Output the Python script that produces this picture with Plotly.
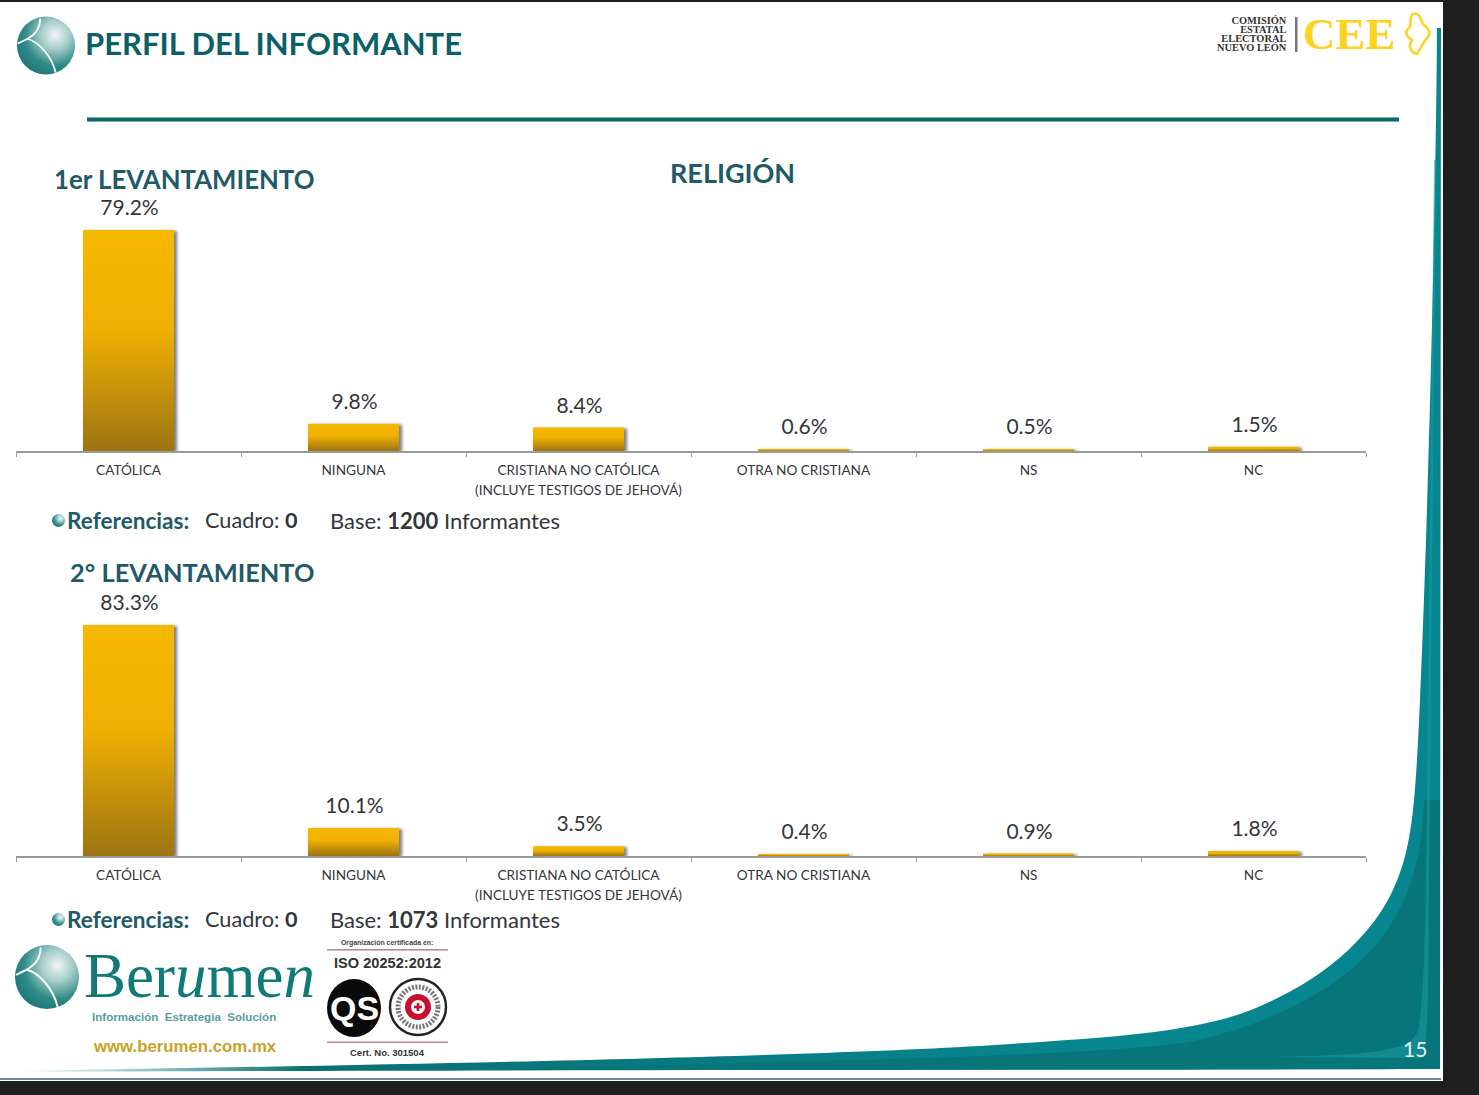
import base64
import plotly.graph_objects as go

W, H = 1479, 1095

# ---------- data ----------
categories = ["CATÓLICA", "NINGUNA", "CRISTIANA NO CATÓLICA<br>(INCLUYE TESTIGOS DE JEHOVÁ)",
              "OTRA NO CRISTIANA", "NS", "NC"]
values_first = [79.2, 9.8, 8.4, 0.6, 0.5, 1.5]
values_second = [83.3, 10.1, 3.5, 0.4, 0.9, 1.8]
base_first = 1200
base_second = 1073
cuadro = 0

TEAL = "#0B5F68"
TEXT = "#33363A"


def fx(px):
    return px / W


def fy(px):
    return 1 - px / H


def sphere(cx, cy, r):
    s = r / 30
    return f'''<g transform="translate({cx} {cy}) scale({s})">
<circle r="30" fill="url(#sph)"/>
<path d="M-6 -28 C-6 -18 -10 -12 -19 -7 L-29 -2" fill="none" stroke="#fff" stroke-width="1.8"/>
<path d="M-19 -7 C-6 -3 6 12 10 28" fill="none" stroke="#fff" stroke-width="1.8"/>
</g>'''


svg = f'''<svg xmlns="http://www.w3.org/2000/svg" width="{W}" height="{H}" viewBox="0 0 {W} {H}">
<defs>
<radialGradient id="sph" cx="0.66" cy="0.32" r="0.85">
<stop offset="0" stop-color="#EEF6F5"/><stop offset="0.28" stop-color="#A9CFCC"/>
<stop offset="0.62" stop-color="#2F8A88"/><stop offset="1" stop-color="#136E6E"/>
</radialGradient>
<linearGradient id="tail" x1="0" x2="1" y1="0" y2="0">
<stop offset="0" stop-color="#0A7C80" stop-opacity="0"/><stop offset="0.2" stop-color="#0A6F72"/>
<stop offset="0.75" stop-color="#07868F"/><stop offset="1" stop-color="#07868F"/>
</linearGradient>
<linearGradient id="rule" x1="0" x2="0" y1="0" y2="1">
<stop offset="0" stop-color="#A8D5D3"/><stop offset="0.3" stop-color="#0B6A69"/>
<stop offset="0.75" stop-color="#0B6A69"/><stop offset="1" stop-color="#BFE2E0"/>
</linearGradient>
</defs>
<rect width="{W}" height="{H}" fill="#1E1E1E"/>
<rect x="0" y="2" width="1443" height="1079" fill="#FFFFFF"/>
<rect x="0" y="1078" width="1441" height="2" fill="#6E89A6"/>
<path d="M1437 28 C1436 200 1428 520 1420 700 C1415 810 1412 850 1392 892
         C1370 938 1320 985 1240 1014 C1180 1034 1100 1038 980 1046
         C800 1056 500 1063 20 1071 L20 1072 C400 1070 1100 1070 1440 1069 L1441 28 Z" fill="url(#tail)"/>
<path d="M1424 800 C1422 860 1410 900 1380 940 C1340 990 1270 1024 1190 1042
         C1100 1056 800 1062 420 1070 L1440 1069 L1440 800 Z" fill="#08757A"/>
<path d="M1434 160 L1428 700 C1426 850 1427 990 1418 1030 C1412 1048 1392 1055 1270 1057 L1420 1058 C1426 1052 1426 1040 1428 1000 L1436 160 Z" fill="#1B9AA0" opacity="0.55"/>
<rect x="87" y="117" width="1312" height="5" fill="url(#rule)"/>
{sphere(46, 45.5, 29)}
{sphere(47, 977, 32)}
<circle cx="58.5" cy="520.5" r="6.5" fill="url(#sph)"/>
<circle cx="58.5" cy="919.5" r="6.5" fill="url(#sph)"/>
<rect x="1295" y="17" width="2.5" height="35" fill="#777"/>
<path d="M1413 14 C1420 12 1421 20 1423 24 C1428 28 1431 33 1428 37 C1423 42 1421 48 1417 54
         C1410 52 1408 46 1412 40 C1406 36 1404 32 1409 28 C1413 24 1408 18 1413 14 Z"
      fill="none" stroke="#FFD42A" stroke-width="2.6"/>
<rect x="327" y="949" width="121" height="1.6" fill="#B98A98"/>
<rect x="327" y="1041.5" width="121" height="1.6" fill="#B98A98"/>
<ellipse cx="354" cy="1008" rx="27" ry="29" fill="#0A0A0A"/>
<circle cx="418" cy="1007" r="28" fill="#FFFFFF" stroke="#222" stroke-width="2.4"/>
<circle cx="418" cy="1007" r="20" fill="none" stroke="#777" stroke-width="5" stroke-dasharray="2 1.5"/>
<circle cx="418" cy="1007" r="13" fill="#C8102E"/>
<circle cx="418" cy="1007" r="7" fill="#FFFFFF"/>
<rect x="416.7" y="1003" width="2.6" height="8" fill="#C8102E"/>
<rect x="414" y="1005.7" width="8" height="2.6" fill="#C8102E"/>
</svg>'''
bg = "data:image/svg+xml;base64," + base64.b64encode(svg.encode()).decode()

fig = go.Figure()


def bars(values, xa, ya):
    fig.add_trace(go.Bar(
        x=categories, y=values, xaxis=xa, yaxis=ya, width=0.405,
        marker=dict(color="#F4B400", line=dict(width=0)),
        text=[f"{v:.1f}%" for v in values], textposition="outside", cliponaxis=False,
        textfont=dict(family="Lato, Open Sans, sans-serif", size=21, color=TEXT),
        showlegend=False,
    ))


bars(values_first, "x", "y")
bars(values_second, "x2", "y2")

xstyle = dict(
    type="category", categoryorder="array", categoryarray=categories, range=[-0.5, 5.5],
    showgrid=False, zeroline=False, showline=True, linecolor="#9A9A9A", linewidth=1.5,
    ticks="outside", ticklen=4, tickcolor="#9A9A9A", tickson="boundaries", tickangle=0,
    ticklabelstandoff=6,
    tickfont=dict(family="Lato, sans-serif", size=13.6, color=TEXT),
    domain=[fx(16), fx(1366)],
)
fig.update_layout(
    width=W, height=H, margin=dict(l=0, r=0, t=0, b=0), autosize=False,
    paper_bgcolor="#1E1E1E", plot_bgcolor="rgba(0,0,0,0)", barmode="overlay",
    xaxis=dict(anchor="y", **xstyle), xaxis2=dict(anchor="y2", **xstyle),
    yaxis=dict(domain=[fy(451), fy(200)], range=[0, 251 / 2.79], visible=False),
    yaxis2=dict(domain=[fy(856), fy(600)], range=[0, 256 / 2.773], visible=False),
    images=[dict(source=bg, xref="paper", yref="paper", x=0, y=1, sizex=1, sizey=1,
                 sizing="stretch", xanchor="left", yanchor="top", layer="below")],
)


def note(x, y, text, size, color=TEXT, family="Lato, sans-serif", anchor="left"):
    fig.add_annotation(x=fx(x), y=fy(y), xref="paper", yref="paper", text=text, showarrow=False,
                       xanchor=anchor, yanchor="middle", align=anchor, borderpad=0, borderwidth=0,
                       font=dict(size=size, color=color, family=family))


note(85, 43, "<b>PERFIL DEL INFORMANTE</b>", 31, TEAL)
note(732, 173, "<b>RELIGIÓN</b>", 27, "#1F5A68", anchor="center")
note(54, 179, "<b>1er LEVANTAMIENTO</b>", 25.8, "#1F5A68")
note(70, 572, "<b>2° LEVANTAMIENTO</b>", 25.4, "#1F5A68")

for y, base in ((520, base_first), (919, base_second)):
    note(67, y, "<b>Referencias:</b>", 22.6, "#1F5A68")
    note(205, y, f"Cuadro: <b>{cuadro}</b>", 21.7)
    note(330, y, f"Base: <b>{base}</b> Informantes", 22)

serif = "Liberation Serif, serif"
sans = "Liberation Sans, sans-serif"
note(1287, 41, "<b>COMISIÓN<br>ESTATAL<br>ELECTORAL<br>NUEVO LEÓN</b>", 10.4, "#333", serif, "right")
note(1303, 34, "<b>CEE</b>", 45, "#FFD21E", serif)

note(84, 976, "Ber<i>u</i>me<i>n</i>", 63, "#0F7A78", serif)
note(92, 1016, "<b>Información  Estrategia  Solución</b>", 11.6, "#5B9C9C", sans)
note(93, 1046, "<b>www.berumen.com.mx</b>", 16.8, "#C9A227", sans)
note(387, 943, "<b>Organización certificada en:</b>", 6.9, "#444", sans, "center")
note(387, 963, "<b>ISO 20252:2012</b>", 14.6, "#333", sans, "center")
note(354, 1008, "<b>QS</b>", 34, "#FFFFFF", sans, "center")
note(387, 1052, "<b>Cert. No. 301504</b>", 9.5, "#333", sans, "center")
note(1415, 1048, "15", 21, "#E6F5F5", "Lato, sans-serif", "center")

post = """
document.body.style.margin='0';
document.body.style.background='#1E1E1E';
document.documentElement.style.overflow='hidden';
var svg=document.querySelector('.main-svg');
var ns='http://www.w3.org/2000/svg';
var d=svg.querySelector('defs')||svg.insertBefore(document.createElementNS(ns,'defs'),svg.firstChild);
var g=document.createElementNS(ns,'linearGradient');
g.setAttribute('id','barfill');g.setAttribute('x1','0');g.setAttribute('x2','0');g.setAttribute('y1','0');g.setAttribute('y2','1');
[['0','#F5B802'],['0.45','#F0B003'],['1','#9C7412']].forEach(function(s){
 var st=document.createElementNS(ns,'stop');st.setAttribute('offset',s[0]);st.setAttribute('stop-color',s[1]);g.appendChild(st);});
d.appendChild(g);
document.querySelectorAll('.barlayer .point path').forEach(function(p){
 p.style.fill='url(#barfill)';
 p.style.filter='drop-shadow(3px 1px 1.5px rgba(0,0,0,0.5))';});
document.querySelectorAll('.barlayer text.bartext').forEach(function(t){
 t.setAttribute('transform','translate(1,-8) '+(t.getAttribute('transform')||''));});
document.querySelectorAll('.xtick text tspan.line, .x2tick text tspan.line').forEach(function(t){
 var dy=t.getAttribute('dy'); if(dy && parseFloat(dy)>0){t.setAttribute('dy','1.47em');}});
document.querySelectorAll('.annotation-text tspan.line').forEach(function(t){
 var dy=t.getAttribute('dy'); if(dy && parseFloat(dy)>0){t.setAttribute('dy',(parseFloat(dy)/1.3*0.865)+'em');}});
"""
fig.write_html("out.html", post_script=post, config=dict(displayModeBar=False))
